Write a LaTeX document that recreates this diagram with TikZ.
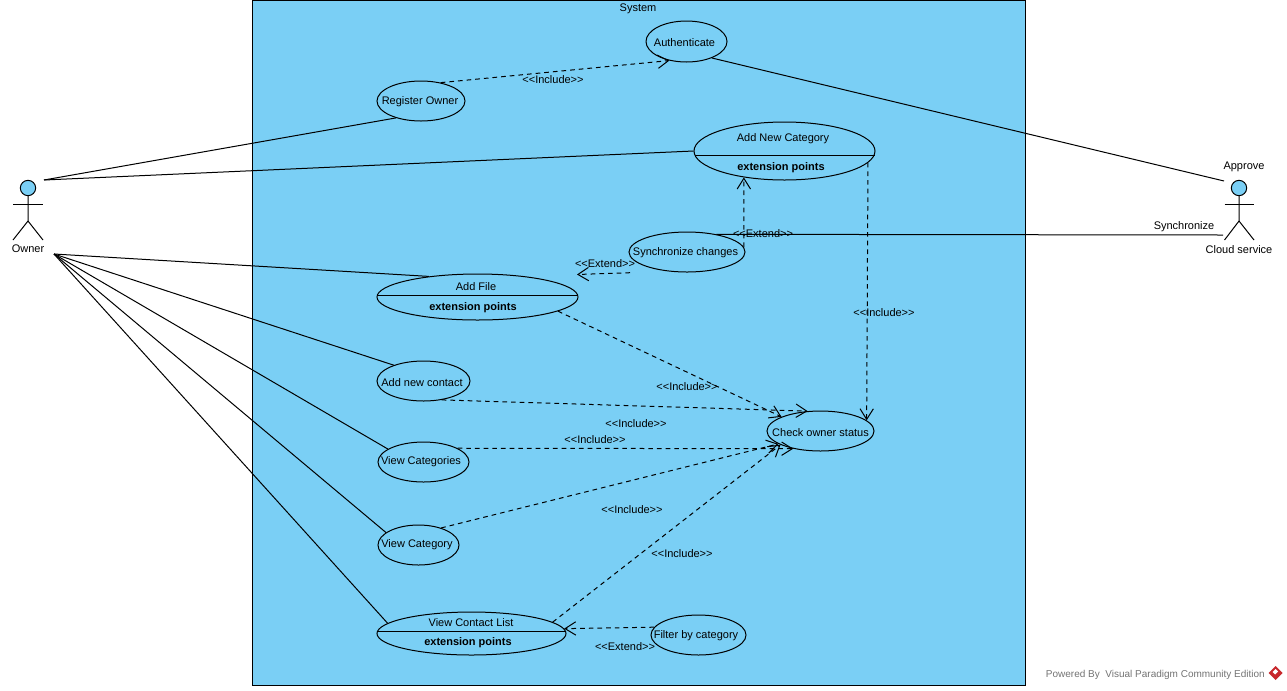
\documentclass[tikz,border=0pt]{standalone}
\usepackage{fontspec}
\setmainfont{Liberation Sans}
\usetikzlibrary{arrows.meta}
\usetikzlibrary{shapes.geometric}
\definecolor{sysblue}{RGB}{122,207,245}
\definecolor{vpred}{RGB}{200,40,45}
\tikzset{
    usecase/.style={draw, ellipse, inner sep=0pt, line width=0.75pt},
    uctext/.style={inner sep=0pt, yshift=-0.8pt, font=\fontsize{8.25pt}{9pt}\selectfont},
    ucbold/.style={inner sep=0pt, yshift=-0.8pt, font=\fontsize{8.25pt}{9pt}\selectfont\bfseries},
    stereo/.style={inner sep=0pt, yshift=-0.4pt, font=\fontsize{8.25pt}{9pt}\selectfont},
    assoc/.style={line width=0.75pt},
    dep/.style={line width=0.75pt, dash pattern=on 3.5pt off 3pt, -{Straight Barb[length=8pt,width=10pt]}},
    actorhead/.style={draw, circle, fill=sysblue, inner sep=0pt, minimum size=11.5pt, line width=0.75pt},
}

\begin{document}
\begin{tikzpicture}[x=0.75pt, y=-0.75pt]
            \useasboundingbox (0,0) rectangle (1287,690);
            \draw[fill=sysblue, line width=0.75pt] (252.5,0.5) rectangle (1025,685);
            \node[uctext] (systemname) at (638,8) {System};

            \node[usecase, minimum width=60.75pt, minimum height=30.75pt] (authenticate) at (686.5,41.5) {};
            \node[uctext] (authenticatename) at (684.5,41.5) {Authenticate};
            \node[usecase, minimum width=66pt, minimum height=30pt] (register) at (421,101) {};
            \node[uctext] (registername) at (420,101) {Register Owner};
            \node[usecase, minimum width=135.75pt, minimum height=43.5pt] (addcategory) at (784.5,151) {};
            \node[uctext] (addcategoryname) at (783,138) {Add New Category};
            \node[ucbold] (addcategorypoints) at (781,167) {extension points};
            \node[usecase, minimum width=87pt, minimum height=30pt] (sync) at (687,252) {};
            \node[uctext] (syncname) at (685.5,252) {Synchronize changes};
            \node[usecase, minimum width=150.75pt, minimum height=34.5pt] (addfile) at (477.5,297) {};
            \node[uctext] (addfilename) at (476,285) {Add File};
            \node[ucbold] (addfilepoints) at (473,307) {extension points};
            \node[usecase, minimum width=69.75pt, minimum height=30pt] (addcontact) at (423.5,381) {};
            \node[uctext] (addcontactname) at (422,381) {Add new contact};
            \node[usecase, minimum width=68.25pt, minimum height=30pt] (viewcategories) at (423.5,462) {};
            \node[uctext] (viewcategoriesname) at (421,461) {View Categories};
            \node[usecase, minimum width=60.75pt, minimum height=30pt] (viewcategory) at (418.5,545) {};
            \node[uctext] (viewcategoryname) at (417,544) {View Category};
            \node[usecase, minimum width=141.75pt, minimum height=32.25pt] (viewlist) at (471.5,633.5) {};
            \node[uctext] (viewlistname) at (471,621) {View Contact List};
            \node[ucbold] (viewlistpoints) at (468,642) {extension points};
            \node[usecase, minimum width=71.25pt, minimum height=30pt] (filter) at (698.5,635) {};
            \node[uctext] (filtername) at (696,635) {Filter by category};
            \node[usecase, minimum width=80.25pt, minimum height=30pt] (check) at (820.5,431) {};
            \node[uctext] (checkname) at (820.5,431) {Check owner status};

            \draw[line width=0.75pt] (694.5,155.5) -- (874.5,155.5);
            \draw[line width=0.75pt] (377.5,295) -- (577.5,295);
            \draw[line width=0.75pt] (377.5,631.5) -- (565.5,631.5);

            % actors
            \node[actorhead] (owner) at (28,188) {};
            \draw[assoc] (owner.south) -- (28,221) -- (13,240);
            \draw[assoc] (28,221) -- (43,240);
            \draw[assoc] (13,204) -- (43,204);
            \node[uctext] (ownername) at (28,248) {Owner};
            \node[actorhead] (cloud) at (1239,188) {};
            \draw[assoc] (cloud.south) -- (1239,221) -- (1224.5,240);
            \draw[assoc] (1239,221) -- (1254,240);
            \draw[assoc] (1224.5,204) -- (1254,204);
            \node[uctext] (cloudname) at (1239,248) {Cloud service};
            \node[uctext] (approvename) at (1244,166) {Approve};
            \node[uctext] (syncrole) at (1184,226) {Synchronize};

            \coordinate (ownertop) at (44,180);
            \coordinate (ownerfoot) at (54,254);
            \coordinate (cloudtop) at (1224,181);
            \coordinate (cloudhand) at (1223,235);
            \coordinate (syncfoot) at (630,272.7);
            \coordinate (filetip) at (577,274.5);

            % associations
            \draw[assoc] (ownertop) -- (register.214.7);
            \draw[assoc] (ownertop) -- (addcategory.west);
            \draw[assoc] (ownerfoot) -- (addfile.157.4);
            \draw[assoc] (ownerfoot) -- (addcontact.152);
            \draw[assoc] (ownerfoot) -- (viewcategories.160.6);
            \draw[assoc] (ownerfoot) -- (viewcategory.159.9);
            \draw[assoc] (ownerfoot) -- (viewlist.173.3);
            \draw[assoc] (authenticate.-33) -- (cloudtop);
            \draw[assoc] (sync.31.5) -- (cloudhand);

            % include and extend
            \draw[dep] (register.43) -- (authenticate.228);
            \draw[dep] (sync.5) -- (addcategory.213.5);
            \draw[dep] (syncfoot) -- (filetip);
            \draw[dep] (addcategory.-8.8) -- (check.13);
            \draw[dep] (addfile.-10.6) -- (check.160);
            \draw[dep] (addcontact.-46) -- (check.123);
            \draw[dep] (viewcategories.22) -- (check.213.7);
            \draw[dep] (viewcategory.37.4) -- (check.197);
            \draw[dep] (viewlist.8.1) -- (check.199);
            \draw[dep] (filter.170.7) -- (viewlist.3.4);

            \node[stereo] (incregister) at (553,79) {<{}<Include>{}>};
            \node[stereo] (extcategory) at (763,233) {<{}<Extend>{}>};
            \node[stereo] (extfile) at (605,263) {<{}<Extend>{}>};
            \node[stereo] (inccategory) at (884,312) {<{}<Include>{}>};
            \node[stereo] (incfile) at (687,386) {<{}<Include>{}>};
            \node[stereo] (inccontact) at (636,423) {<{}<Include>{}>};
            \node[stereo] (incviewcategories) at (595,439) {<{}<Include>{}>};
            \node[stereo] (incviewcategory) at (632,509) {<{}<Include>{}>};
            \node[stereo] (incviewlist) at (682,553) {<{}<Include>{}>};
            \node[stereo] (extfilter) at (625,646) {<{}<Extend>{}>};

            % footer
            \node[inner sep=0pt, yshift=-1.1pt, font=\fontsize{7.5pt}{9pt}\selectfont, text=black!55, anchor=east] (powered) at (1265,673) {Powered By\ \ Visual Paradigm Community Edition};
            \fill[vpred] (1275.5,666) -- (1282.5,673) -- (1275.5,680) -- (1268.5,673) -- cycle;
            \fill[white] (1275.5,669) -- (1278,671.5) -- (1275,674.5) -- (1272.5,672) -- cycle;
        \end{tikzpicture}
\end{document}
